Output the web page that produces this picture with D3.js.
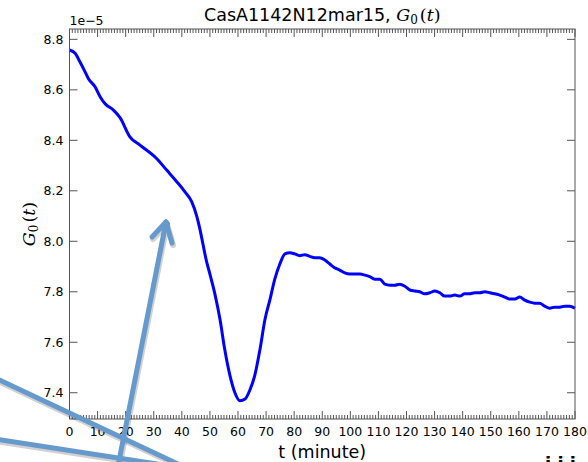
<!DOCTYPE html>
<html>
<head>
<meta charset="utf-8">
<script src="https://cdn.jsdelivr.net/npm/d3@7"></script>
<style>
	body { margin: 0; background: #fff; }
	text { font-family: "DejaVu Sans", sans-serif; fill: #000; }
	.math { font-family: "DejaVu Serif", serif; font-style: italic; }
</style>
</head>
<body>
<svg id="chart" width="588" height="462"></svg>
<script>
// time in minutes, G0 in units of 1e-5
var times = [0, 2, 3.7, 5.5, 6.7, 9.1, 10.9, 12.6, 15.6, 18, 21.5, 25.1, 31, 34.6, 38.2, 41.1, 43.5, 45.3, 46.4,
	47.5, 48.6, 50, 51.8, 53.6, 55.3, 57.1, 58.9, 60.7, 62.5, 64.2, 66, 67.8, 69.6, 71.4, 73.1, 74.9, 76.7, 78.5,
	80.2, 82, 83.8, 85.6, 87.3, 89.1, 90.9, 92.7, 94.4, 96.2, 98, 99.8, 103.4, 105.2, 106.9, 108.7, 110.5,
	112.3, 114.1, 115.8, 117.6, 119.4, 121.2, 123, 124.7, 126.5, 128.3, 130.1, 131.9, 133.6, 135.4, 137.2,
	139, 140.7, 142.5, 144.3, 146.1, 147.9, 149.7, 151.4, 153.2, 155, 156.8, 158.6, 160.3, 162.1, 163.9,
	165.7, 167.4, 169.2, 171, 172.8, 174.6, 176.3, 178.1, 180];
var g0 = [8.758, 8.745, 8.711, 8.672, 8.645, 8.612, 8.573, 8.546, 8.520, 8.490, 8.414, 8.381, 8.328, 8.282, 8.236, 8.196, 8.157, 8.10, 8.05,
	7.99, 7.93, 7.87, 7.79, 7.69, 7.57, 7.47, 7.40, 7.368, 7.375, 7.41, 7.47, 7.57, 7.69, 7.77, 7.85, 7.91, 7.95, 7.955,
	7.95, 7.943, 7.947, 7.94, 7.935, 7.935, 7.926, 7.91, 7.895, 7.886, 7.875, 7.87, 7.87, 7.866, 7.86, 7.85, 7.85,
	7.83, 7.826, 7.826, 7.83, 7.822, 7.807, 7.803, 7.8, 7.792, 7.796, 7.803, 7.796, 7.783, 7.783, 7.787,
	7.783, 7.792, 7.792, 7.796, 7.796, 7.80, 7.796, 7.792, 7.787, 7.779, 7.771, 7.771, 7.779, 7.767, 7.759,
	7.755, 7.755, 7.743, 7.735, 7.739, 7.739, 7.743, 7.743, 7.735];
var xTicks = d3.range(0, 181, 10);
var yTicks = [7.4, 7.6, 7.8, 8.0, 8.2, 8.4, 8.6, 8.8];

var svg = d3.select('#chart');
var pLeft = 69.5, pRight = 575, pTop = 29, pBottom = 419;

var x = d3.scaleLinear().domain([0, 180]).range([pLeft, pRight]);
var y = d3.scaleLinear().domain([7.296, 8.841]).range([pBottom, pTop]);

var spine = '#555';

// curve
var line = d3.line().x(function (d, i) { return x(times[i]); }).y(function (d) { return y(d); }).curve(d3.curveMonotoneX);
svg.append('path')
	.datum(g0)
	.attr('d', line)
	.attr('fill', 'none')
	.attr('stroke', '#0000ff')
	.attr('stroke-width', 3)
	.attr('stroke-linejoin', 'round');

// ticks (inward, all four sides)
var minor = d3.range(0, 181, 1).filter(function (t) { return t % 10 != 0; });
var tk = svg.append('g').attr('stroke', spine).attr('stroke-width', 1);
minor.forEach(function (t) {
	tk.append('line').attr('x1', x(t)).attr('x2', x(t)).attr('y1', pBottom).attr('y2', pBottom - 4);
	tk.append('line').attr('x1', x(t)).attr('x2', x(t)).attr('y1', pTop).attr('y2', pTop + 4);
});
xTicks.forEach(function (t) {
	tk.append('line').attr('x1', x(t)).attr('x2', x(t)).attr('y1', pBottom).attr('y2', pBottom - 8);
	tk.append('line').attr('x1', x(t)).attr('x2', x(t)).attr('y1', pTop).attr('y2', pTop + 8);
	svg.append('text').attr('x', x(t)).attr('y', pBottom + 17)
		.attr('text-anchor', 'middle').style('font-size', '12.5px').text(t);
});
yTicks.forEach(function (v) {
	tk.append('line').attr('x1', pLeft).attr('x2', pLeft + 8).attr('y1', y(v)).attr('y2', y(v));
	tk.append('line').attr('x1', pRight).attr('x2', pRight - 8).attr('y1', y(v)).attr('y2', y(v));
	svg.append('text').attr('x', pLeft - 6).attr('y', y(v) + 4.5)
		.attr('text-anchor', 'end').style('font-size', '12.5px').text(v.toFixed(1));
});

svg.append('rect')
	.attr('x', pLeft).attr('y', pTop)
	.attr('width', pRight - pLeft).attr('height', pBottom - pTop)
	.attr('fill', 'none').attr('stroke', spine).attr('stroke-width', 1);

// offset label
svg.append('text').attr('x', pLeft).attr('y', 25).style('font-size', '12.5px').text('1e\u22125');

// title
var title = svg.append('text').attr('x', (pLeft + pRight) / 2).attr('y', 21)
	.attr('text-anchor', 'middle').style('font-size', '17.5px');
title.append('tspan').text('CasA1142N12mar15, ');
title.append('tspan').attr('class', 'math').text('G');
title.append('tspan').attr('class', 'math').style('font-style', 'normal').style('font-size', '12px').attr('dy', 3).text('0');
title.append('tspan').attr('class', 'math').style('font-style', 'normal').attr('dy', -3).attr('dx', 2).text('(');
title.append('tspan').attr('class', 'math').text('t');
title.append('tspan').attr('class', 'math').style('font-style', 'normal').text(')');

// x label
svg.append('text').attr('x', (pLeft + pRight) / 2).attr('y', 458)
	.attr('text-anchor', 'middle').style('font-size', '17.5px').text('t (minute)');

// y label
var yl = svg.append('text').attr('transform', 'translate(35,' + ((pTop + pBottom) / 2) + ') rotate(-90)')
	.attr('text-anchor', 'middle').style('font-size', '17.5px');
yl.append('tspan').attr('class', 'math').text('G');
yl.append('tspan').attr('class', 'math').style('font-style', 'normal').style('font-size', '12px').attr('dy', 3).text('0');
yl.append('tspan').attr('class', 'math').style('font-style', 'normal').attr('dy', -3).attr('dx', 2).text('(');
yl.append('tspan').attr('class', 'math').text('t');
yl.append('tspan').attr('class', 'math').style('font-style', 'normal').text(')');

// cut-off text at the bottom right
svg.append('text').attr('x', 545).attr('y', 470).style('font-size', '18px').style('font-weight', 'bold')
	.attr('fill', '#222').text('i  i  i');

// overlaid annotation arrows
var arrows = [
	[[118, 466], [166, 222]],
	[[166, 222], [152, 237]],
	[[166, 222], [172, 243]],
	[[-5, 378], [180, 465]],
	[[-5, 439], [170, 466]]
];
var ann = svg.append('g');
arrows.forEach(function (a) {
	ann.append('line').attr('x1', a[0][0] + 1).attr('y1', a[0][1] + 2).attr('x2', a[1][0] + 1).attr('y2', a[1][1] + 2)
		.attr('stroke', '#000').attr('stroke-opacity', 0.18).attr('stroke-width', 6).attr('stroke-linecap', 'round');
});
arrows.forEach(function (a) {
	ann.append('line').attr('x1', a[0][0]).attr('y1', a[0][1]).attr('x2', a[1][0]).attr('y2', a[1][1])
		.attr('stroke', '#6699cc').attr('stroke-width', 5).attr('stroke-linecap', 'round');
});
</script>
</body>
</html>
